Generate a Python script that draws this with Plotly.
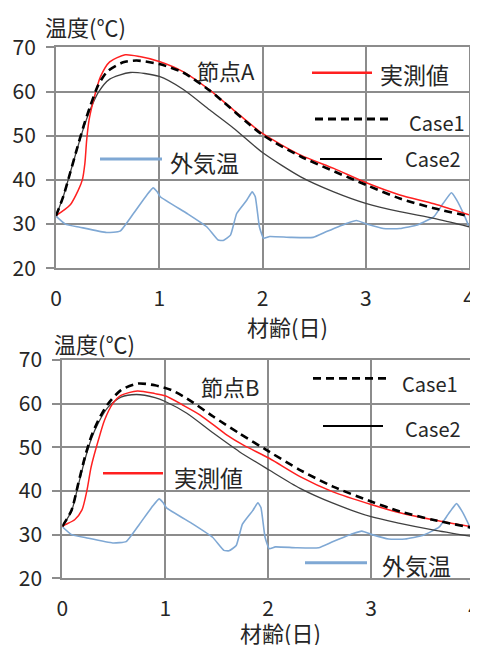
import plotly.graph_objects as go

# ---------------- data ----------------
# 外気温 (shared by both panels)
t_air = [0, 0.09, 0.23, 0.49, 0.62, 0.75, 0.88, 0.94, 0.98, 1.01, 1.27, 1.46, 1.57, 1.62, 1.69, 1.75,
         1.85, 1.90, 1.93, 1.97, 2.01, 2.07, 2.27, 2.49, 2.62, 2.82, 2.91, 3.01, 3.17, 3.33, 3.50,
         3.66, 3.75, 3.83, 3.88, 3.96, 4.0]
air = [31.8, 30.0, 29.3, 28.1, 28.4, 32.4, 36.6, 38.2, 37.3, 36.2, 32.4, 29.4, 26.4, 26.3, 27.5, 32.4,
       35.5, 37.3, 36.2, 29.4, 26.8, 27.2, 27.0, 27.0, 28.3, 30.2, 30.8, 30.0, 29.0, 29.0, 29.8,
       31.7, 34.7, 37.1, 35.5, 31.7, 29.4]

# 節点A
tA_meas = [0, 0.136, 0.216, 0.255, 0.28, 0.297, 0.32, 0.36, 0.43, 0.52, 0.67, 0.81, 1.0, 1.23, 1.49,
           1.72, 2.0, 2.37, 2.69, 3.0, 3.33, 3.66, 4.0]
A_meas = [31.9, 34.3, 37.7, 40.0, 43.8, 49.0, 53.5, 57.7, 63.3, 66.7, 68.3, 67.9, 66.8, 64.5, 60.3,
          55.8, 50.5, 45.6, 42.6, 39.4, 36.6, 34.6, 32.1]
tA_c1 = [0, 0.07, 0.136, 0.2, 0.265, 0.33, 0.41, 0.5, 0.65, 0.78, 1.0, 1.23, 1.49, 2.0, 2.37, 3.0,
         3.33, 3.66, 4.0]
A_c1 = [31.9, 36.2, 41.5, 46.8, 52.0, 56.6, 61.5, 64.6, 66.6, 67.0, 66.2, 64.3, 60.2, 50.2, 45.3, 38.9,
        35.8, 33.6, 31.8]
tA_c2 = [0, 0.07, 0.136, 0.2, 0.265, 0.33, 0.41, 0.52, 0.72, 1.0, 1.23, 1.49, 1.72, 2.0, 2.37, 2.69,
         3.0, 3.33, 3.66, 4.0]
A_c2 = [31.9, 36.2, 41.5, 46.6, 51.6, 55.8, 59.8, 62.8, 64.3, 63.4, 60.5, 55.8, 51.7, 46.2, 40.7, 37.3,
        34.7, 32.8, 31.3, 29.4]

# 節点B
tB_meas = [0, 0.03, 0.12, 0.19, 0.24, 0.28, 0.35, 0.41, 0.49, 0.57, 0.73, 0.9, 1.0, 1.17, 1.34, 1.6,
           1.76, 2.01, 2.31, 2.63, 3.0, 3.28, 3.6, 4.0]
B_meas = [31.9, 32.3, 33.4, 35.6, 40.2, 45.5, 51.6, 56.2, 60.0, 61.9, 62.9, 62.3, 61.8, 59.7, 57.4, 52.8,
          50.5, 47.5, 43.3, 39.8, 36.9, 35.0, 33.4, 31.7]
tB_c1 = [0, 0.09, 0.155, 0.22, 0.28, 0.35, 0.445, 0.57, 0.735, 0.9, 1.06, 1.21, 1.47, 1.72, 2.01, 2.31,
         2.63, 3.0, 3.28, 3.6, 4.0]
B_c1 = [31.9, 35.6, 41.7, 47.8, 52.4, 56.2, 60.0, 63.1, 64.6, 64.2, 63.1, 61.2, 57.0, 53.2, 49.0, 44.8,
        41.0, 37.6, 35.3, 33.4, 31.5]
tB_c2 = [0, 0.09, 0.155, 0.22, 0.28, 0.35, 0.445, 0.57, 0.72, 0.9, 1.0, 1.21, 1.47, 1.72, 2.01, 2.31,
         2.63, 3.0, 3.28, 3.6, 4.0]
B_c2 = [31.9, 35.4, 41.3, 47.2, 51.8, 55.6, 59.2, 61.5, 62.1, 61.4, 60.5, 57.8, 53.2, 49.0, 44.8, 40.6,
        37.2, 34.1, 32.6, 31.1, 29.5]

x_ticks = [0, 1, 2, 3, 4]
y_ticks = [20, 30, 40, 50, 60, 70]

# ---------------- styling ----------------
OFF = 8  # default body margin of the html page
W, H = 478 - OFF, 645 - OFF
RED = "#ff2020"
BLUE = "#7fa8d4"
DARK = "#404040"
GRID = "#8c8c8c"
TXT = "#262626"
CJK = "Noto Sans CJK JP"


def px(x):
    return (x - OFF) / W


def py(y):
    return 1 - (y - OFF) / H


fig = go.Figure()

panels = [
    ("x", "y", tA_meas, A_meas, tA_c1, A_c1, tA_c2, A_c2),
    ("x2", "y2", tB_meas, B_meas, tB_c1, B_c1, tB_c2, B_c2),
]
for xa, ya, tm, m, t1, c1, t2, c2 in panels:
    fig.add_trace(go.Scatter(x=t_air, y=air, mode="lines", xaxis=xa, yaxis=ya,
                             line=dict(color=BLUE, width=1.6, shape="spline", smoothing=0.4)))
    fig.add_trace(go.Scatter(x=t2, y=c2, mode="lines", xaxis=xa, yaxis=ya,
                             line=dict(color=DARK, width=1.3, shape="spline", smoothing=0.7)))
    fig.add_trace(go.Scatter(x=tm, y=m, mode="lines", xaxis=xa, yaxis=ya,
                             line=dict(color=RED, width=1.5, shape="spline", smoothing=0.7)))
    fig.add_trace(go.Scatter(x=t1, y=c1, mode="lines", xaxis=xa, yaxis=ya,
                             line=dict(color="black", width=2.6, dash="8px,5px", shape="spline",
                                       smoothing=0.7)))

axis_common = dict(showgrid=True, gridcolor=GRID, gridwidth=2, showline=True, linecolor=GRID,
                   linewidth=2, mirror=True, zeroline=False, automargin=False,
                   ticklabeloverflow="allow",
                   tickfont=dict(family=CJK, size=21, color=TXT), fixedrange=True)

fig.update_layout(
    width=W, height=H, margin=dict(l=0, r=0, t=0, b=0, autoexpand=False),
    paper_bgcolor="white", plot_bgcolor="white", showlegend=False,
    xaxis=dict(domain=[px(56), px(469)], anchor="y", range=[0, 4], tickvals=x_ticks,
               ticks="", ticklabelstandoff=10, **axis_common),
    yaxis=dict(domain=[py(268.3), py(47.3)], anchor="x", range=[20, 70], tickvals=y_ticks,
               ticks="outside", ticklen=8, tickwidth=2, tickcolor=GRID, ticklabelstandoff=6,
               **axis_common),
    xaxis2=dict(domain=[px(62.3), px(474)], anchor="y2", range=[0, 4], tickvals=x_ticks,
                ticks="", ticklabelstandoff=10, **axis_common),
    yaxis2=dict(domain=[py(578.3), py(360)], anchor="x2", range=[20, 70], tickvals=y_ticks,
                ticks="outside", ticklen=8, tickwidth=2, tickcolor=GRID, ticklabelstandoff=6,
                **axis_common),
)

shapes = []
annots = []


def leg_line(x0, x1, y, color, width, dash=None):
    shapes.append(dict(type="line", xref="paper", yref="paper", x0=px(x0), x1=px(x1),
                       y0=py(y), y1=py(y), line=dict(color=color, width=width, dash=dash)))


def text(s, xc, yc, size=23, xanchor="center"):
    annots.append(dict(text=s, xref="paper", yref="paper", x=px(xc), y=py(yc), showarrow=False,
                       xanchor=xanchor, yanchor="middle",
                       font=dict(family=CJK, size=size, color=TXT)))


# top panel decorations
text("温度(℃)", 43, 26, 22, "left")
text("材齢(日)", 287, 326, 22)
text("節点A", 226, 70, 22)
leg_line(312, 372, 72.7, RED, 2.5)
text("実測値", 378, 74, 23, "left")
leg_line(315, 392, 119, "black", 2.8, "8px,5px")
text("Case1", 407, 122, 20, "left")
leg_line(320, 382, 159, "black", 2.2)
text("Case2", 403, 158, 20, "left")
leg_line(100, 162, 159, BLUE, 3)
text("外気温", 168, 162, 23, "left")

# bottom panel decorations
text("温度(℃)", 52, 343, 22, "left")
text("材齢(日)", 280, 632, 22)
text("節点B", 230, 386, 22)
leg_line(313, 388, 378.3, "black", 2.8, "8px,5px")
text("Case1", 400, 383, 20, "left")
leg_line(323, 383, 426, "black", 2.2)
text("Case2", 403, 428, 20, "left")
leg_line(103, 163, 473.3, RED, 2.5)
text("実測値", 172, 477, 23, "left")
leg_line(305, 367, 562.7, BLUE, 3)
text("外気温", 380, 565, 23, "left")

fig.update_layout(shapes=shapes, annotations=annots)
fig.write_html("out.html")
